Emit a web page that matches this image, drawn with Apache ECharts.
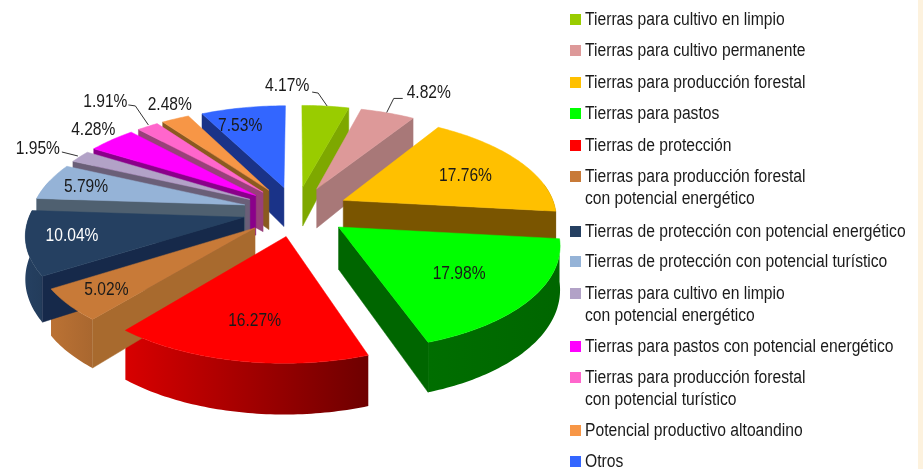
<!DOCTYPE html>
<html><head><meta charset="utf-8">
<script src="https://cdn.jsdelivr.net/npm/echarts@6/dist/echarts.min.js"></script>
<style>html,body{margin:0;padding:0;background:#fff}#c{width:923px;height:469px}</style>
</head><body><div id="c"></div>
<script>
const categories = [
  'Tierras para cultivo en limpio','Tierras para cultivo permanente','Tierras para producción forestal',
  'Tierras para pastos','Tierras de protección','Tierras para producción forestal\ncon potencial energético',
  'Tierras de protección con potencial energético','Tierras de protección con potencial turístico',
  'Tierras para cultivo en limpio\ncon potencial energético','Tierras para pastos con potencial energético',
  'Tierras para producción forestal\ncon potencial turístico','Potencial productivo altoandino','Otros'];
const shares = [4.17,4.82,17.76,17.98,16.27,5.02,10.04,5.79,1.95,4.28,1.91,2.48,7.53];
const topColors = ['#99cc00','#dd9999','#ffc000','#00ff00','#ff0000','#c87a38','#254061','#95b3d7','#b2a2c7','#ff00ff','#ff66cc','#f79646','#3366ff'];
const wallColors = ['#7ea800','#a87878','#7a5500','#006600','#a00000','#a86a2e','#16294a','#4f6070','#6a5f78','#8a008a','#99407a','#8a5a20','#1a3388'];
const labelColors = ['#1a1a1a','#1a1a1a','#1a1a1a','#1a1a1a','#1a1a1a','#1a1a1a','#ffffff','#1a1a1a','#1a1a1a','#1a1a1a','#1a1a1a','#1a1a1a','#1a1a1a'];
// label nudges from each slice's default anchor, and leader-line bends relative to the label centre
const labelNudge = [[-31,-46],[64,-45],[6,2],[0,2],[-2,8],[-32,14],[-32,2],[-30,-3],[-99,-22],[-66,-29],[-80,-46],[-36,-37],[-16,-7.5]];
const leaders = {0:[[25,6],[31,7],[40,20]],1:[[-26,6],[-35,6],[-42,20]],8:[[24,3],[40,7]],10:[[23,3],[30,4],[43,23]]};
const legendRowY = [19,50,82,113,145,176,231,261,293,346,377,430,461];

const cx=296, cy=211, Rx=213, Ry=100, persp=0.146, explode=0.25, depth=41;
const LABEL_FONT='19px "Liberation Sans",Arial,sans-serif';
const LEGEND_FONT='18px "Liberation Sans",Arial,sans-serif';
const NARROW=0.82, LEGEND_NARROW=0.87;
const DEG=Math.PI/180;
const total=shares.reduce((a,b)=>a+b,0);
const startA=[]; let acc=0;
shares.forEach(s=>{startA.push(acc/total*360); acc+=s;});
const endA=startA.map((a,i)=>a+shares[i]/total*360);
const midA=startA.map((a,i)=>(a+endA[i])/2);

function project(u,v){const f=1/(1+persp*v);return {x:cx+Rx*u*f,y:cy-Ry*v*f,t:depth*(1-0.2*v)};}
function pt(i,theta,r){const m=midA[i]*DEG,a=theta*DEG;
  return project(explode*Math.sin(m)+r*Math.sin(a),explode*Math.cos(m)+r*Math.cos(a));}
function shade(hex,k){const n=parseInt(hex.slice(1),16);
  const c=[n>>16&255,n>>8&255,n&255].map(x=>Math.round(x*k));return 'rgb('+c.join(',')+')';}
function arcShade(i,theta){const u=Math.sin(theta*DEG);return shade(topColors[i],u>=0.33?0.4:0.43+(0.33-u)*0.43);}
function poly(points,fill,z){return {type:'polygon',z2:z,shape:{points},style:{fill,stroke:typeof fill==='string'?fill:null,lineWidth:0.5}};}
function quad(a,b,fill,z){return poly([[a.x,a.y],[b.x,b.y],[b.x,b.y+b.t],[a.x,a.y+a.t]],fill,z);}

function renderSlice(params,api){
  const i=api.value(1), s=startA[i], e=endA[i], kids=[];
  const apex=pt(i,s,0);
  // outer rim wall (only the part that faces the viewer)
  const rimFrom=Math.max(s,80), rimTo=Math.min(e,285);
  if(rimTo>rimFrom){
    const top=[],bot=[];
    for(let a=rimFrom;;a+=1){const q=a>=rimTo?rimTo:a,p=pt(i,q,1);top.push([p.x,p.y]);bot.unshift([p.x,p.y+p.t]);if(a>=rimTo)break;}
    const pa=top[0],pb=top[top.length-1];
    const grad=new echarts.graphic.LinearGradient(0,0,1,0,[
      {offset:0,color:arcShade(i,pa[0]<pb[0]?rimFrom:rimTo)},{offset:1,color:arcShade(i,pa[0]<pb[0]?rimTo:rimFrom)}]);
    kids.push(poly(top.concat(bot),grad,1));
  }
  // radial walls: a slice shows its leading edge on the left half, its trailing edge on the right half
  if(s>=180) kids.push(quad(apex,pt(i,s,1),wallColors[i],2));
  if(e<=180) kids.push(quad(apex,pt(i,e,1),wallColors[i],2));
  const face=[[apex.x,apex.y]];
  for(let a=s;;a+=1){const q=a>=e?e:a,p=pt(i,q,1);face.push([p.x,p.y]);if(a>=e)break;}
  kids.push(poly(face,topColors[i],3));
  return {type:'group',children:kids};
}
function renderLabel(params,api){
  const i=api.value(1), m=midA[i]*DEG, s=explode+0.65;
  const p=project(s*Math.sin(m),s*Math.cos(m));
  const lx=p.x+labelNudge[i][0], ly=p.y+labelNudge[i][1], kids=[];
  if(leaders[i]) kids.push({type:'polyline',shape:{points:leaders[i].map(q=>[lx+q[0],ly+q[1]])},style:{stroke:'#333',lineWidth:1,fill:null}});
  kids.push({type:'text',x:lx,y:ly,scaleX:NARROW,style:{text:api.value(0).toFixed(2)+'%',font:LABEL_FONT,fill:labelColors[i],align:'center',verticalAlign:'middle'}});
  return {type:'group',children:kids};
}
const drawOrder=shares.map((_,i)=>i).sort((a,b)=>Math.cos(midA[b]*DEG)-Math.cos(midA[a]*DEG));

const legendGraphics=[{type:'rect',x:918,y:0,shape:{width:5,height:469},style:{fill:'#fdf2de'},silent:true}];
categories.forEach((name,i)=>{
  const y=legendRowY[i];
  legendGraphics.push({type:'rect',x:570,y:y-5,shape:{width:11,height:11},style:{fill:topColors[i]},silent:true});
  name.split('\n').forEach((line,k)=>legendGraphics.push({type:'text',x:585,y:y+1+k*22,scaleX:LEGEND_NARROW,silent:true,
    style:{text:line,font:LEGEND_FONT,fill:'#1a1a1a',align:'left',verticalAlign:'middle'}}));
});

const chart=echarts.init(document.getElementById('c'),null,{renderer:'canvas'});
chart.setOption({
  animation:false,
  backgroundColor:'#ffffff',
  tooltip:{show:false},
  graphic:{elements:legendGraphics},
  series:[
    {type:'custom',name:'Superficie',coordinateSystem:'none',silent:true,renderItem:renderSlice,
      data:drawOrder.map(i=>({name:categories[i],value:[shares[i],i]}))},
    {type:'custom',name:'Etiquetas',coordinateSystem:'none',silent:true,z:5,renderItem:renderLabel,
      data:shares.map((v,i)=>({name:categories[i],value:[v,i]}))}
  ]
});
</script></body></html>
